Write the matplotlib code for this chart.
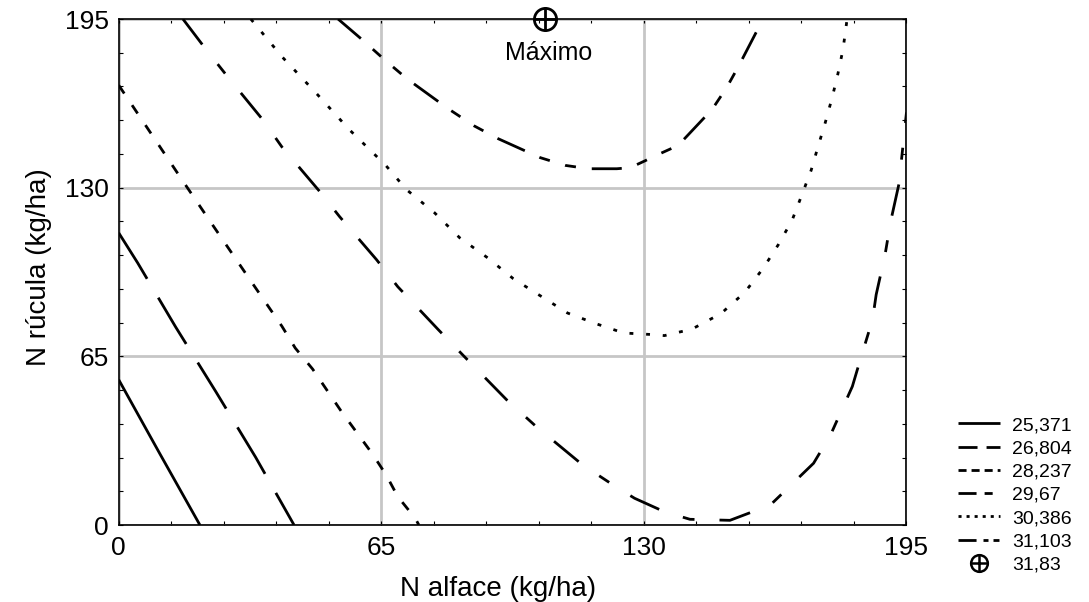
import matplotlib
matplotlib.use('Agg')
import matplotlib.pyplot as plt
from matplotlib.lines import Line2D
from matplotlib.ticker import MultipleLocator, FixedLocator
from matplotlib.legend_handler import HandlerTuple

plt.rcParams['font.family'] = ['Liberation Sans', 'DejaVu Sans']
plt.rcParams['lines.scale_dashes'] = False

# ---- data ----
level_labels = ['25,371', '26,804', '28,237', '29,67', '30,386', '31,103']
max_label = '31,83'

c1_x = [0, 10.1, 20.1]
c1_y = [56.0, 27.7, 0]

c2_x = [0, 4.7, 14.1, 24.0, 33.9, 43.4]
c2_y = [112.6, 101.0, 76.3, 51.5, 26.1, 0]

c3_x = [0, 15.3, 22.6, 33.3, 40.4, 43.7, 48.0, 55.1, 62.8, 66.2, 69.1, 73.4, 74.3]
c3_y = [169.5, 133.9, 117.1, 92.7, 76.6, 68.2, 60.1, 43.8, 27.4, 19.3, 10.9, 2.6, 0]

c4_x = [15.9, 21.7, 27.1, 35.7, 40.4, 49.5, 54.7, 63.8, 69.1, 79.1, 85.5, 96.0,
        103.3, 114.8, 122.7, 127.7, 135.1, 141.4, 151.3, 161.3, 172.0, 176.2,
        181.6, 183.2, 186.6, 187.5, 189.7, 191.1, 193.2, 193.8, 195.0]
c4_y = [195, 183.1, 172.5, 156.1, 145.7, 129.0, 118.8, 102.3, 91.8, 75.3, 65.0, 48.3,
        38.0, 23.2, 15.1, 10.3, 5.1, 2.2, 1.8, 7.7, 23.8, 34.7,
        53.4, 61.8, 79.2, 88.8, 104.2, 117.1, 131.9, 141.3, 159.0]

c5_x = [32.7, 40.4, 48.9, 57.0, 66.1, 71.2, 78.2, 84.4, 91.3, 97.7, 104.3, 111.1,
        118.1, 125.0, 132.0, 135.1, 141.9, 149.1, 155.0, 159.6, 163.3, 166.7,
        169.1, 171.4, 173.1, 174.9, 176.6, 178.0, 179.3, 180.3]
c5_y = [195, 180.5, 166.4, 152.5, 138.6, 129.3, 120.3, 110.7, 103.0, 94.9, 88.4, 81.7,
        77.6, 74.0, 73.4, 73.0, 75.5, 81.5, 89.7, 99.1, 108.1, 117.5,
        127.2, 136.7, 145.8, 155.1, 164.7, 173.7, 183.4, 195]

c6_x = [54.3, 60.3, 66.1, 71.5, 81.5, 88.0, 93.9, 104.3, 110.5, 116.3, 123.3, 126.6,
        130.2, 132.7, 138.5, 146.9, 150.5, 153.5, 158.2, 158.5]
c6_y = [195, 187.0, 178.9, 171.8, 160.5, 153.8, 148.9, 141.6, 138.6, 137.3, 137.3, 137.7,
        140.3, 142.2, 146.3, 160.2, 168.6, 177.0, 191.1, 195]

max_x, max_y = 105.4, 195
max_text = 'Máximo'

x_ticks = [0, 65, 130, 195]
y_ticks = [0, 65, 130, 195]

# ---- styles ----
LW = 2.0
plot_dashes = [None, (0, (38.9, 15.8)), (0, (7.2, 10.1)), (0, (23.0, 18.0, 8.6, 18.0)),
               (0, (2.8, 9.2)), (0, (21.6, 11.5, 7.9, 11.5, 7.9, 11.5))]
leg_dashes = [None, (0, (13.7, 6.5)), (0, (5.8, 3.6)), (0, (13.0, 5.8, 5.8, 5.8)),
              (0, (2.2, 3.6)), (0, (13.0, 5.0, 3.6, 3.6, 4.3, 3.6))]

fig = plt.figure(figsize=(10.89, 6.02), dpi=100)
ax = fig.add_axes([0.1090, 0.1279, 0.7234, 0.8405])

series = [(c1_x, c1_y), (c2_x, c2_y), (c3_x, c3_y), (c4_x, c4_y), (c5_x, c5_y), (c6_x, c6_y)]
for (xs, ys), ls in zip(series, plot_dashes):
    ax.plot(xs, ys, color='black', lw=LW, linestyle='-' if ls is None else ls,
            solid_capstyle='butt', dash_capstyle='butt', zorder=3)

# maximum marker
ax.plot([max_x], [max_y], marker='o', ms=16, mfc='none', mec='black', mew=2.0,
        ls='none', clip_on=False, zorder=5)
ax.plot([max_x], [max_y], marker='+', ms=16, mec='black', mew=2.0,
        ls='none', clip_on=False, zorder=5)
ax.text(106.5, 182.0, max_text, ha='center', va='center', fontsize=18, color='black')

ax.set_xlim(0, 195)
ax.set_ylim(0, 195)
ax.xaxis.set_major_locator(FixedLocator(x_ticks))
ax.yaxis.set_major_locator(FixedLocator(y_ticks))
ax.xaxis.set_minor_locator(MultipleLocator(13))
ax.yaxis.set_minor_locator(MultipleLocator(13))
ax.tick_params(which='both', direction='in', top=True, right=True, width=0.8,
               color='black', labelsize=19, labelcolor='black')
ax.tick_params(which='major', length=3)
ax.tick_params(which='minor', length=3)
ax.tick_params(axis='x', pad=8)
ax.tick_params(axis='y', pad=7)

for s in ax.spines.values():
    s.set_linewidth(1.2)
    s.set_color('black')

ax.set_axisbelow(True)
ax.grid(True, which='major', color='#c6c6c6', lw=2.0)

ax.set_xlabel('N alface (kg/ha)', fontsize=20)
ax.set_ylabel('N rúcula (kg/ha)', fontsize=20)
ax.xaxis.set_label_coords(0.481, -0.100)
ax.yaxis.set_label_coords(-0.085, 0.51)

# legend
handles = []
for ls in leg_dashes:
    handles.append(Line2D([], [], color='black', lw=LW, linestyle='-' if ls is None else ls,
                          solid_capstyle='butt', dash_capstyle='butt'))
mk_o = Line2D([], [], marker='o', ms=12, mfc='none', mec='black', mew=1.8, ls='none')
mk_p = Line2D([], [], marker='+', ms=12, mec='black', mew=1.8, ls='none')
handles.append((mk_o, mk_p))
labels = level_labels + [max_label]

fig.legend(handles, labels, loc='center left', bbox_to_anchor=(958 / 1089, 1 - 495 / 602),
           frameon=False, fontsize=14, handlelength=2.16, handletextpad=0.62,
           labelspacing=0.29, borderpad=0, borderaxespad=0,
           handler_map={tuple: HandlerTuple(ndivide=1)})

fig.savefig('out.png', dpi=100)
